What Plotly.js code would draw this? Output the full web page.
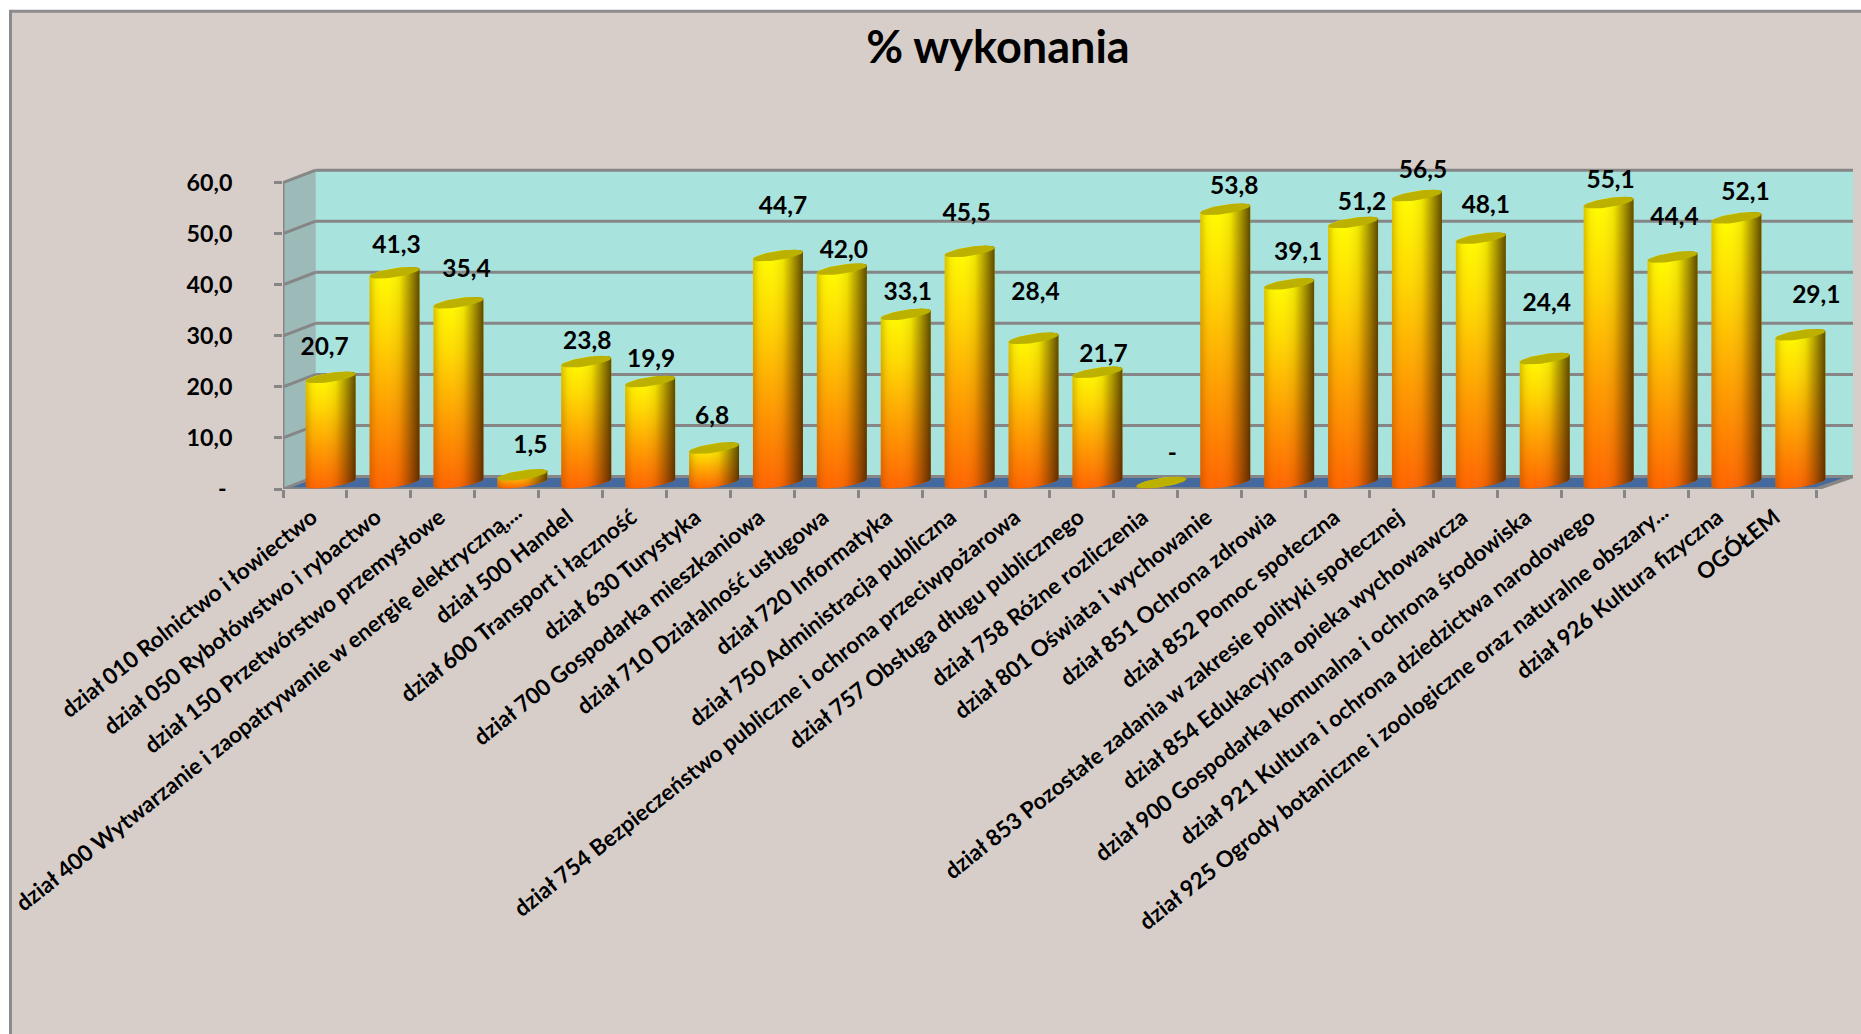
<!DOCTYPE html>
<html lang="pl"><head><meta charset="utf-8"><title>% wykonania</title>
<script src="https://cdn.plot.ly/plotly-3.0.1.min.js"></script>
<style>html,body{margin:0;padding:0;background:#fff;overflow:hidden}</style></head>
<body><div id="chart" style="width:1861px;height:1034px"></div>
<script>
const categories = [
 "dział 010 Rolnictwo i łowiectwo","dział 050 Rybołówstwo i rybactwo","dział 150 Przetwórstwo przemysłowe",
 "dział 400 Wytwarzanie i zaopatrywanie w energię elektryczną,...","dział 500 Handel","dział 600 Transport i łączność",
 "dział 630 Turystyka","dział 700 Gospodarka mieszkaniowa","dział 710 Działalność usługowa","dział 720 Informatyka",
 "dział 750 Administracja publiczna","dział 754 Bezpieczeństwo publiczne i ochrona przeciwpożarowa",
 "dział 757 Obsługa długu publicznego","dział 758 Różne rozliczenia","dział 801 Oświata i wychowanie",
 "dział 851 Ochrona zdrowia","dział 852 Pomoc społeczna","dział 853 Pozostałe zadania w zakresie polityki społecznej",
 "dział 854 Edukacyjna opieka wychowawcza","dział 900 Gospodarka komunalna i ochrona środowiska",
 "dział 921 Kultura i ochrona dziedzictwa narodowego","dział 925 Ogrody botaniczne i zoologiczne oraz naturalne obszary...",
 "dział 926 Kultura fizyczna","OGÓŁEM"];
const values = [20.7,41.3,35.4,1.5,23.8,19.9,6.8,44.7,42.0,33.1,45.5,28.4,21.7,0,53.8,39.1,51.2,56.5,48.1,24.4,55.1,44.4,52.1,29.1];
const yTickValues = [0,10,20,30,40,50,60];
const yTickLabels = ["-\u00a0","10,0","20,0","30,0","40,0","50,0","60,0"];
const chartTitle = "% wykonania";

// Excel-style label placement relative to the top of each column (px)
const labelShiftX = [-6,2,8,8,1,1,-2,5,2,2,-3,2,6,11,9,9,9,6,5,2,2,2,9,16];
const labelShiftY = [-29,-26,-32,-28,-19,-21,-30,-48,-17,-21,-37,-45,-17,-28,-21,-30,-19,-24,-31,-54,-21,-38,-24,-38];
// Truncated category labels sit further along their baseline in the source: right/top corner of their box (px)
const truncatedLabels = [{index:3,right:527,top:497},{index:21,right:1674,top:497}];
const categoryNudge = {23:-0.11};

// Scales of the plot: px per category and per value unit, plus the oblique depth of the box
const W=1861,H=1034,L=283,T=120,WALLTOP=171,B=489.5,R=1853;
const pxX=63.9, pxY=5.113, columnScale=0.995;
const depthX=(315.7-L)/pxX, depthY=(B-477)/pxY;
const midX=15.7/pxX, midY=1.25;
const xMin=-0.5, xMax=xMin+(R-L)/pxX, yMax=(B-T)/pxY, yWall=(B-WALLTOP)/pxY, lastX=categories.length-0.5;
const GREY='#868686', FONT='Lato, Carlito, Calibri, sans-serif';
const CATFONT={family:FONT,size:22.5,color:'#000',weight:700}, ANGLE=-38.5;

function ringPoint(i,v,t){
  const dx=25*Math.cos(t), dy=-3.65*Math.cos(t)+4.57*Math.sin(t);
  return [i+midX+dx/pxX, v*columnScale+midY-dy/pxY];
}
function arc(i,v,t0,t1,n){const o=[];for(let k=0;k<=n;k++)o.push(ringPoint(i,v,t0+(t1-t0)*k/n));return o;}
function body(i,v){return arc(i,v,0,-Math.PI,24).concat(arc(i,0,Math.PI,0,24));}

const traces=[];
// frame and gridlines of the 3-D box
const gx=[],gy=[];
function seg(x0,y0,x1,y1){gx.push(x0,x1,null);gy.push(y0,y1,null);}
yTickValues.forEach(v=>{
  seg(xMin,v,xMin+depthX,v+depthY);
  seg(xMin+depthX,v+depthY,xMax,v+depthY);
});
seg(xMin,0,xMin,60);
traces.push({type:'scatter',mode:'lines',x:gx,y:gy,line:{color:GREY,width:3},cliponaxis:false,hoverinfo:'skip',showlegend:false});
// front edge
traces.push({type:'scatter',mode:'lines',x:[xMin,lastX,xMax],y:[0,0,depthY],line:{color:GREY,width:3.5},cliponaxis:false,hoverinfo:'skip',showlegend:false});

// columns: value bars
traces.push({type:'bar',x:values.map((_,i)=>i+midX),y:values.map(v=>v*columnScale),base:midY,width:0.5,marker:{color:'#ff9a00',line:{width:0}},
  customdata:values,hovertemplate:'%{customdata:.1f}<extra></extra>',showlegend:false,cliponaxis:false});
// columns: cylinder shading
values.forEach((v,i)=>{
  const p=body(i,v), xs=p.map(q=>q[0]), ys=p.map(q=>q[1]);
  traces.push({type:'scatter',mode:'lines',x:xs,y:ys,fill:'toself',line:{width:0},cliponaxis:false,hoverinfo:'skip',showlegend:false,
    fillgradient:{type:'vertical',colorscale:[[0,'#ff6400'],[0.35,'#ff9c00'],[0.7,'#ffd800'],[1,'#ffff00']]}});
  traces.push({type:'scatter',mode:'lines',x:xs,y:ys,fill:'toself',line:{width:0},cliponaxis:false,hoverinfo:'skip',showlegend:false,
    fillgradient:{type:'horizontal',colorscale:[[0,'rgba(120,60,0,0.28)'],[0.12,'rgba(120,60,0,0.06)'],[0.3,'rgba(255,255,255,0)'],[0.6,'rgba(90,50,0,0.1)'],[0.85,'rgba(70,40,0,0.55)'],[1,'rgba(50,30,0,0.8)']]}});
});
// column tops
const tx=[],ty=[];
values.forEach((v,i)=>{arc(i,v,0,2*Math.PI,40).forEach(q=>{tx.push(q[0]);ty.push(q[1]);});tx.push(null);ty.push(null);});
traces.push({type:'scatter',mode:'lines',x:tx,y:ty,fill:'toself',fillcolor:'#bdb100',line:{width:0},cliponaxis:false,hoverinfo:'skip',showlegend:false});
// data labels
traces.push({type:'scatter',mode:'text',
  x:values.map((_,i)=>i+midX+labelShiftX[i]/pxX),
  y:values.map((v,i)=>v*columnScale+midY-labelShiftY[i]/pxY),
  text:values.map(v=>v===0?'-':v.toFixed(1).replace('.',',')),
  textposition:'middle center',textfont:{family:FONT,size:24.5,color:'#000',weight:700},
  cliponaxis:false,hoverinfo:'skip',showlegend:false});

const px2x=p=>(p-L)/(R-L), px2y=p=>(B-p)/(B-T);
const truncatedIdx=truncatedLabels.map(t=>t.index);
const layout={
  width:W,height:H,margin:{l:L,r:W-R,t:T,b:H-B,pad:0},
  paper_bgcolor:'#ffffff',plot_bgcolor:'rgba(0,0,0,0)',showlegend:false,bargap:0,
  title:{text:chartTitle,x:998/W,xref:'container',xanchor:'center',y:1-47/H,yref:'container',yanchor:'middle',
    font:{family:FONT,size:45,color:'#000',weight:700}},
  xaxis:{type:'linear',range:[xMin,xMax],tickmode:'array',
    tickvals:categories.map((_,i)=>i+(categoryNudge[i]||0)),
    ticktext:categories.map((c,i)=>truncatedIdx.includes(i)?'':c),
    tickangle:ANGLE,ticks:'',showgrid:false,zeroline:false,showline:false,automargin:false,
    tickfont:CATFONT,ticklabelstandoff:10,ticklabelshift:-3,
    minor:{ticks:'outside',ticklen:8,tickwidth:2.5,tickcolor:GREY,tick0:-0.5,dtick:1,showgrid:false}},
  yaxis:{range:[0,yMax],tickmode:'array',tickvals:yTickValues,ticktext:yTickLabels,ticks:'outside',ticklen:8,tickwidth:3,tickcolor:GREY,
    showgrid:false,zeroline:false,showline:false,automargin:false,ticklabelstandoff:37,
    tickfont:{family:FONT,size:23.2,color:'#000',weight:700}},
  annotations:truncatedLabels.map(t=>({text:categories[t.index],xref:'paper',yref:'paper',x:px2x(t.right),y:px2y(t.top),
    xanchor:'right',yanchor:'top',textangle:ANGLE,showarrow:false,borderpad:0,font:CATFONT})),
  shapes:[
    {type:'rect',xref:'paper',yref:'paper',x0:px2x(10.5),x1:px2x(W+20),y0:px2y(H+20),y1:px2y(11),fillcolor:'#d7cec9',line:{color:'#8c8c8c',width:3},layer:'below'},
    {type:'rect',xref:'x',yref:'y',x0:xMin+depthX,x1:xMax,y0:depthY,y1:yWall,fillcolor:'#a8e3de',line:{width:0},layer:'below'},
    {type:'path',xref:'x',yref:'y',path:`M${xMin},0 L${xMin+depthX},${depthY} L${xMin+depthX},${yWall} L${xMin},60 Z`,fillcolor:'#9cbbb8',line:{width:0},layer:'below'},
    {type:'path',xref:'x',yref:'y',path:`M${xMin},0 L${xMin+depthX},${depthY} L${xMax},${depthY} L${lastX},0 Z`,fillcolor:'#44699f',line:{width:0},layer:'below'}
  ]
};
Plotly.newPlot('chart',traces,layout,{displayModeBar:false,staticPlot:false,responsive:false});
</script></body></html>
